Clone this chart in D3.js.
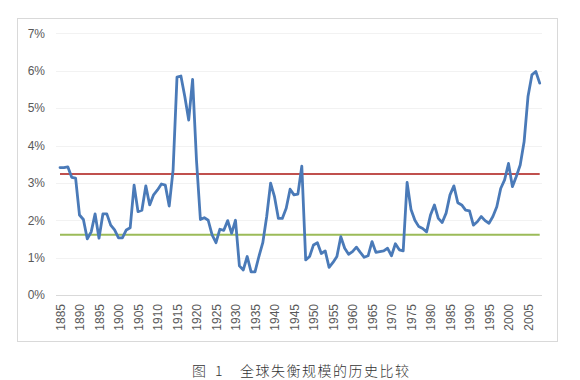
<!DOCTYPE html>
<html>
<head>
<meta charset="utf-8">
<script src="https://cdn.jsdelivr.net/npm/d3@7"></script>
<style>
  body { margin: 0; background: #fff; }
  svg { display: block; }
</style>
</head>
<body>
<svg id="chart" width="580" height="380"></svg>
<script>
// share of world GDP, 1885-2008
const years = d3.range(1885, 2009);
const values = [
  3.41, 3.41, 3.43, 3.15, 3.13, 2.14, 2.02, 1.50, 1.69, 2.17,
  1.52, 2.17, 2.17, 1.87, 1.74, 1.53, 1.53, 1.74, 1.80, 2.94,
  2.23, 2.27, 2.92, 2.41, 2.68, 2.81, 2.97, 2.94, 2.38, 3.35,
  5.83, 5.86, 5.31, 4.68, 5.77, 3.60, 2.02, 2.07, 2.00, 1.61,
  1.40, 1.76, 1.73, 1.99, 1.65, 2.00, 0.78, 0.67, 1.03, 0.62,
  0.62, 1.03, 1.40, 2.10, 2.99, 2.63, 2.05, 2.05, 2.32, 2.83,
  2.68, 2.70, 3.45, 0.94, 1.03, 1.34, 1.40, 1.11, 1.18, 0.74,
  0.87, 1.03, 1.56, 1.25, 1.09, 1.16, 1.28, 1.14, 1.01, 1.05,
  1.43, 1.14, 1.16, 1.18, 1.25, 1.05, 1.37, 1.21, 1.18, 3.01,
  2.29, 2.00, 1.83, 1.78, 1.69, 2.14, 2.41, 2.05, 1.94, 2.19,
  2.68, 2.92, 2.47, 2.41, 2.27, 2.25, 1.87, 1.96, 2.10, 1.99,
  1.92, 2.10, 2.36, 2.85, 3.08, 3.52, 2.90, 3.17, 3.48, 4.10,
  5.31, 5.89, 5.98, 5.67
];
const upperRef = 3.24;
const lowerRef = 1.61;
const yTicks = [0, 1, 2, 3, 4, 5, 6, 7];
const xLabelYears = d3.range(1885, 2009, 5);
const caption = "全球失衡规模的历史比较";

const svg = d3.select("#chart");

svg.append("rect")
  .attr("x", 17.5).attr("y", 18.5)
  .attr("width", 540).attr("height", 323)
  .attr("fill", "#fff")
  .attr("stroke", "#d9d9d9");

const x = d3.scalePoint().domain(years).range([60, 539.7]);
const y = d3.scaleLinear().domain([0, 7]).range([295, 33.4]);

/* ========== GRID + AXES ========== */

svg.append("g")
  .selectAll("line")
  .data(yTicks.filter(d => d > 0))
  .join("line")
  .attr("x1", 56).attr("x2", 542)
  .attr("y1", d => Math.round(y(d)) + 0.5)
  .attr("y2", d => Math.round(y(d)) + 0.5)
  .attr("stroke", "#f2f2f2");

svg.append("line")
  .attr("x1", 56).attr("x2", 542)
  .attr("y1", Math.round(y(0)) + 0.5).attr("y2", Math.round(y(0)) + 0.5)
  .attr("stroke", "#d9d9d9");

const yAxis = d3.axisLeft(y).tickValues(yTicks).tickFormat(d => d + "%").tickSize(0).tickPadding(0);
svg.append("g")
  .attr("transform", "translate(45,0)")
  .call(yAxis)
  .call(g => g.select(".domain").remove())
  .selectAll("text")
  .attr("fill", "#595959")
  .style("font-family", "'Liberation Sans', Arial, sans-serif")
  .style("font-size", "12px");

const xAxis = d3.axisBottom(x).tickValues(xLabelYears).tickSize(0).tickPadding(0);
svg.append("g")
  .attr("transform", "translate(0,304)")
  .call(xAxis)
  .call(g => g.select(".domain").remove())
  .selectAll("text")
  .attr("transform", "rotate(-90)")
  .attr("x", 0).attr("y", 0)
  .attr("dy", "0.35em")
  .attr("text-anchor", "end")
  .attr("fill", "#595959")
  .style("font-family", "'Liberation Sans', Arial, sans-serif")
  .style("font-size", "12px");

/* ========== LINES ========== */

const refLine = v => d3.line()
  .x(d => x(d))
  .y(() => y(v))(years);

svg.append("path")
  .attr("d", refLine(upperRef))
  .attr("fill", "none")
  .attr("stroke", "#c0504d")
  .attr("stroke-width", 2);

svg.append("path")
  .attr("d", refLine(lowerRef))
  .attr("fill", "none")
  .attr("stroke", "#9bbb59")
  .attr("stroke-width", 2);

const line = d3.line()
  .x((d, i) => x(years[i]))
  .y(d => y(d));

svg.append("path")
  .attr("d", line(values))
  .attr("fill", "none")
  .attr("stroke", "#4a7ab8")
  .attr("stroke-width", 2.8)
  .attr("stroke-linejoin", "round")
  .attr("stroke-linecap", "round");

/* ========== CAPTION ========== */

const cap = svg.append("g")
  .style("font-family", "'Noto Sans CJK SC', sans-serif")
  .style("font-size", "14px")
  .style("font-weight", "300")
  .attr("fill", "#333");

cap.append("text").attr("x", 192).attr("y", 376).text("图");
cap.append("text").attr("x", 215).attr("y", 376).text("1");
cap.append("text").attr("x", 240).attr("y", 376)
  .style("letter-spacing", "1.5px")
  .text(caption);
</script>
</body>
</html>
